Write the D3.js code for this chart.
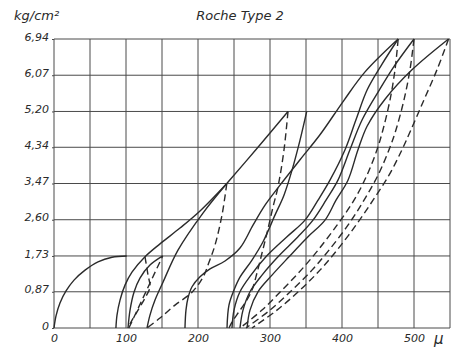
<!DOCTYPE html>
<html>
<head>
<meta charset="utf-8">
<script src="https://cdn.jsdelivr.net/npm/d3@7"></script>
<style>
  body { margin: 0; background: #fff; }
  svg text { font-family: "DejaVu Sans", sans-serif; font-style: italic; fill: #2a2a2a; }
</style>
</head>
<body>
<svg id="chart" width="455" height="350"></svg>
<script>
// axis ticks
const xTicks = [0, 100, 200, 300, 400, 500];
const xGrid = d3.range(0, 551, 50);
const yTicks = [0, 0.87, 1.73, 2.60, 3.47, 4.34, 5.20, 6.07, 6.94];
const yLabels = ["0", "0,87", "1,73", "2,60", "3,47", "4,34", "5,20", "6,07", "6,94"];

// loading curves (solid), [strain µ, stress kg/cm2]
const virgin = [[0,0],[2.8,0.29],[8.3,0.60],[16.7,0.89],[27.8,1.15],[43.1,1.39],[61.1,1.59],[80.6,1.70],[101,1.73]];
const load2 = [[86,0],[87.5,0.31],[91.7,0.67],[98.6,1.03],[108.3,1.34],[126.4,1.71],[147.2,2.02],[175,2.40],[202.8,2.81],[240,3.47]];
const load3 = [[102.8,0],[105.6,0.43],[111.1,0.86],[119.4,1.20],[133.3,1.51],[151,1.73]];
const load4 = [[129.2,0],[133.3,0.31],[140.3,0.67],[151.4,1.10],[172.2,1.87],[206.9,2.76],[240,3.47]];
const load5 = [[240,3.47],[283.3,4.34],[325,5.20]];
const load6 = [[240.3,0],[243,0.55],[250,0.91],[258.3,1.22],[275,1.63],[290.3,2.07],[306.9,2.71],[319.4,3.19],[330.6,3.79],[341.7,4.51],[351,5.20]];
const load7 = [[181.9,0],[183.3,0.43],[186.1,0.72],[191.7,0.99],[202.8,1.23],[216.7,1.42],[237.5,1.61],[258.3,1.92],[276.4,2.47],[293.1,2.95],[313.9,3.43],[341.7,4.04],[369.4,4.64],[402,5.45],[432,6.15],[478,6.94]];
const load8 = [[247.2,0],[250,0.43],[258.3,0.87],[273.6,1.27],[294.4,1.71],[323.6,2.19],[348.6,2.59],[366.7,3.07],[383.3,3.55],[404.2,4.28],[419.4,5.00],[435,5.72],[455,6.32],[478,6.94]];
const load9 = [[258.3,0],[262.5,0.43],[272.2,0.87],[288.9,1.27],[311.1,1.71],[338.9,2.19],[359.7,2.59],[377.8,3.07],[394.4,3.55],[411,4.28],[428,5.00],[452,5.72],[473,6.30],[500,6.94]];
const load10 = [[268.1,0],[272.2,0.43],[283.3,0.87],[302.8,1.27],[326.4,1.71],[352.8,2.19],[376.4,2.59],[391.7,3.07],[408.3,3.55],[422.2,4.28],[435,4.85],[460,5.50],[497.2,6.20],[548,6.94]];

// unloading curves (dashed)
const unload1 = [[126.4,1.71],[130.6,1.27],[133.3,0.98],[126.4,0.72],[116.7,0.43],[106.9,0.14],[102.8,0]];
const unload2 = [[104,0],[151,1.73]];
const unload3 = [[240,3.47],[233.3,2.71],[223.6,1.99],[215.3,1.58],[206.9,1.22],[191.7,0.86],[168.1,0.55],[147.2,0.24],[129.2,0]];
const unload4 = [[325,5.20],[319.4,4.27],[311.1,3.39],[304.2,2.91],[295.8,2.28],[288.9,1.80],[281.9,1.32],[275,0.91],[265.3,0.60],[255.6,0.36],[247.2,0.14],[243,0]];
const unload5 = [[478,6.94],[473.6,6.20],[466.7,5.48],[456.9,4.76],[448.6,4.28],[434.7,3.67],[416.7,3.07],[393.1,2.47],[366.7,1.87],[343.1,1.39],[316.7,0.91],[288.9,0.43],[258.3,0]];
const unload6 = [[500,6.94],[494.4,6.20],[486.1,5.48],[475,4.76],[465.3,4.28],[450,3.67],[430.6,3.07],[408.3,2.47],[381.9,1.87],[358.3,1.39],[330.6,0.91],[300,0.43],[266.7,0]];
const unload7 = [[548,6.94],[531.9,6.20],[513.9,5.48],[495.8,4.76],[483.3,4.28],[465.3,3.67],[443.1,3.07],[419.4,2.47],[393.1,1.87],[369.4,1.39],[341.7,0.91],[309.7,0.43],[275,0]];

const loading = [virgin, load2, load3, load4, load5, load6, load7, load8, load9, load10];
const unloading = [unload1, unload2, unload3, unload4, unload5, unload6, unload7];

const svg = d3.select("#chart");
const margin = { left: 54, right: 5, top: 39, bottom: 22 };
const width = 455, height = 350;

const x = d3.scaleLinear().domain([0, 550]).range([margin.left, width - margin.right]);
const y = d3.scaleLinear().domain([0, 6.94]).range([height - margin.bottom, margin.top]);

// grid
const grid = svg.append("g").attr("class", "grid");
grid.selectAll("line.v")
  .data(xGrid)
  .enter().append("line")
  .attr("x1", d => x(d)).attr("x2", d => x(d))
  .attr("y1", y(0)).attr("y2", y(6.94))
  .attr("stroke", "#4a4a4a").attr("stroke-width", 1);
grid.selectAll("line.h")
  .data(yTicks)
  .enter().append("line")
  .attr("x1", x(0)).attr("x2", x(550))
  .attr("y1", d => y(d)).attr("y2", d => y(d))
  .attr("stroke", "#4a4a4a").attr("stroke-width", 1);

// axes (labels only, the grid does the lines)
const xAxis = svg.append("g")
  .attr("transform", `translate(0,${y(0)})`)
  .call(d3.axisBottom(x).tickValues(xTicks).tickSize(0).tickPadding(6));
xAxis.select(".domain").remove();
xAxis.selectAll("text").attr("font-size", 11).attr("font-family", null).attr("fill", null);

const yAxis = svg.append("g")
  .attr("transform", `translate(${x(0)},0)`)
  .call(d3.axisLeft(y).tickValues(yTicks).tickSize(2).tickPadding(3)
    .tickFormat((d, i) => yLabels[i]));
yAxis.select(".domain").remove();
yAxis.selectAll("line").attr("stroke", "#4a4a4a");
yAxis.selectAll("text").attr("font-size", 11).attr("font-family", null).attr("fill", null).attr("dy", "0.1em");

// curves
const line = d3.line()
  .x(d => x(d[0]))
  .y(d => y(d[1]))
  .curve(d3.curveCatmullRom.alpha(0.5));

svg.append("g").attr("class", "loading")
  .selectAll("path")
  .data(loading)
  .enter().append("path")
  .attr("d", line)
  .attr("fill", "none")
  .attr("stroke", "#2b2b2b")
  .attr("stroke-width", 1.4);

svg.append("g").attr("class", "unloading")
  .selectAll("path")
  .data(unloading)
  .enter().append("path")
  .attr("d", line)
  .attr("fill", "none")
  .attr("stroke", "#2b2b2b")
  .attr("stroke-width", 1.4)
  .attr("stroke-dasharray", "7,4");

// titles
svg.append("text").attr("x", 14).attr("y", 20).attr("font-size", 13).text("kg/cm²");
svg.append("text").attr("x", 240).attr("y", 20).attr("text-anchor", "middle").attr("font-size", 13).text("Roche Type 2");
svg.append("text").attr("x", 434).attr("y", 344).attr("font-size", 15).text("µ");
</script>
</body>
</html>
